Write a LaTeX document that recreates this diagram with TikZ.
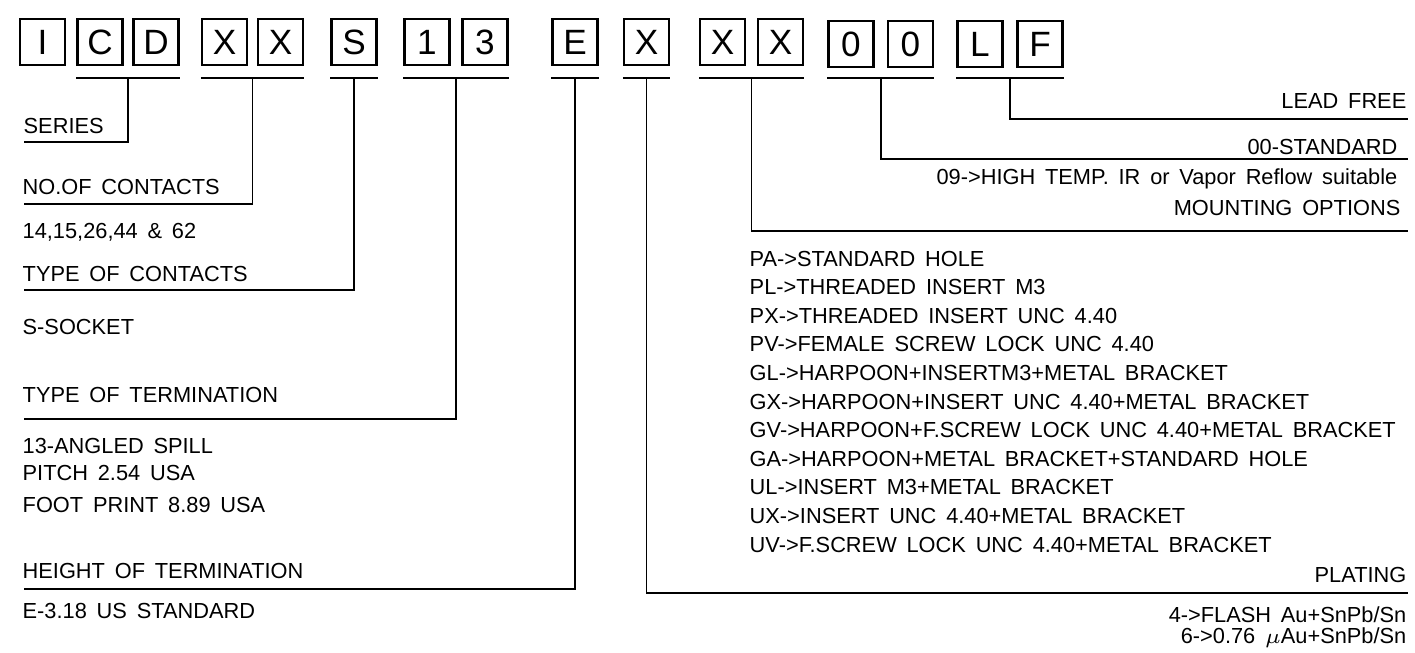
\documentclass[tikz,border=0pt]{standalone}
\usepackage{fontspec}
\setmainfont{Liberation Sans}
\usetikzlibrary{calc}

\newcommand\lblfont{\fontsize{6.2}{7.4}\selectfont\spaceskip 0.45em plus 0.1em\relax}

\tikzset{
  digit/.style={draw, line width=0.6pt, minimum width=0.45cm, minimum height=0.46cm,
    inner sep=0pt, font=\fontsize{10}{12}\selectfont},
  lbl/.style={inner sep=0pt, font=\lblfont},
  lead/.style={line width=0.55pt}
}

\begin{document}
\begin{tikzpicture}[scale=1.0]
    \useasboundingbox (0,0) rectangle (14.15,-6.52);

    % Part number boxes
    \foreach \nm/\x/\y/\ch in {bI/0.425/0.42/I, bC/1.00/0.42/C, bD/1.56/0.42/D, bXa/2.245/0.42/X,
        bXb/2.805/0.42/X, bS/3.54/0.42/S, b1/4.27/0.42/1, b3/4.85/0.42/3, bE/5.75/0.42/E,
        bXc/6.465/0.42/X, bXd/7.225/0.42/X, bXe/7.805/0.42/X, b0a/8.51/0.44/0, b0b/9.105/0.44/0,
        bL/9.80/0.44/L, bF/10.40/0.44/F} {
        \node[digit] (\nm) at (\x,-\y) {\ch};
    }

    % Brackets under the groups
    \foreach \a/\b in {bC/bD, bXa/bXb, bS/bS, b1/b3, bE/bE, bXc/bXc, bXd/bXe, b0a/b0b, bL/bF} {
        \draw[lead] (\a.south west |- 0,-0.78) -- coordinate (m\a) (\b.south east |- 0,-0.78);
    }

    % Left labels
    \node[lbl, anchor=base west] (series) at (0.23,-1.33) {SERIES};
    \node[lbl, anchor=base west] (contacts) at (0.22,-1.94) {NO.OF CONTACTS};
    \node[lbl, anchor=base west] (contactsval) at (0.22,-2.38) {14,15,26,44 \& 62};
    \node[lbl, anchor=base west] (ctype) at (0.22,-2.81) {TYPE OF CONTACTS};
    \node[lbl, anchor=base west] (ctypeval) at (0.22,-3.34) {S-SOCKET};
    \node[lbl, anchor=base west] (term) at (0.22,-4.02) {TYPE OF TERMINATION};
    \node[lbl, anchor=base west] (termval) at (0.22,-4.53) {13-ANGLED SPILL};
    \node[lbl, anchor=base west] (pitch) at (0.22,-4.80) {PITCH 2.54 USA};
    \node[lbl, anchor=base west] (foot) at (0.22,-5.12) {FOOT PRINT 8.89 USA};
    \node[lbl, anchor=base west] (height) at (0.22,-5.78) {HEIGHT OF TERMINATION};
    \node[lbl, anchor=base west] (heightval) at (0.22,-6.18) {E-3.18 US STANDARD};

    % Right labels
    \node[lbl, anchor=base east] (lead) at (14.07,-1.08) {LEAD FREE};
    \node[lbl, anchor=base east] (std) at (13.98,-1.54) {00-STANDARD};
    \node[lbl, anchor=base east] (hightemp) at (13.98,-1.84) {09->HIGH TEMP. IR or Vapor Reflow suitable};
    \node[lbl, anchor=base east] (mount) at (14.01,-2.15) {MOUNTING OPTIONS};
    \node[lbl, anchor=base east] (plating) at (14.07,-5.82) {PLATING};
    \node[lbl, anchor=base east] (flash) at (14.07,-6.22) {4->FLASH Au+SnPb/Sn};
    \node[lbl, anchor=base east] (micro) at (14.07,-6.43) {6->0.76 $\mu$Au+SnPb/Sn};

    % Mounting options list
    \foreach \i/\txt in {0/PA->STANDARD HOLE, 1/PL->THREADED INSERT M3,
        2/PX->THREADED INSERT UNC 4.40, 3/PV->FEMALE SCREW LOCK UNC 4.40,
        4/GL->HARPOON+INSERTM3+METAL BRACKET, 5/GX->HARPOON+INSERT UNC 4.40+METAL BRACKET,
        6/GV->HARPOON+F.SCREW LOCK UNC 4.40+METAL BRACKET, 7/GA->HARPOON+METAL BRACKET+STANDARD HOLE,
        8/UL->INSERT M3+METAL BRACKET, 9/UX->INSERT UNC 4.40+METAL BRACKET,
        10/UV->F.SCREW LOCK UNC 4.40+METAL BRACKET} {
        \node[lbl, anchor=base west] (opt\i) at (7.49,-2.66-0.286*\i) {\txt};
    }

    % Line ends
    \coordinate (series-end) at (0.24,-1.42);
    \coordinate (contacts-end) at (0.24,-2.04);
    \coordinate (ctype-end) at (0.24,-2.90);
    \coordinate (term-end) at (0.24,-4.19);
    \coordinate (height-end) at (0.24,-5.89);
    \coordinate (lead-end) at (14.08,-1.19);
    \coordinate (std-end) at (14.08,-1.59);
    \coordinate (mount-end) at (14.08,-2.31);
    \coordinate (plating-end) at (14.08,-5.93);

    % Leaders
    \draw[lead] (mbC) |- (series-end);
    \draw[lead] (mbXa) |- (contacts-end);
    \draw[lead] (mbS) |- (ctype-end);
    \draw[lead] (mb1) |- (term-end);
    \draw[lead] (mbE) |- (height-end);
    \draw[lead] (mbXc) |- (plating-end);
    \draw[lead] (mbXd) |- (mount-end);
    \draw[lead] (mb0a) |- (std-end);
    \draw[lead] (mbL) |- (lead-end);
\end{tikzpicture}
\end{document}
